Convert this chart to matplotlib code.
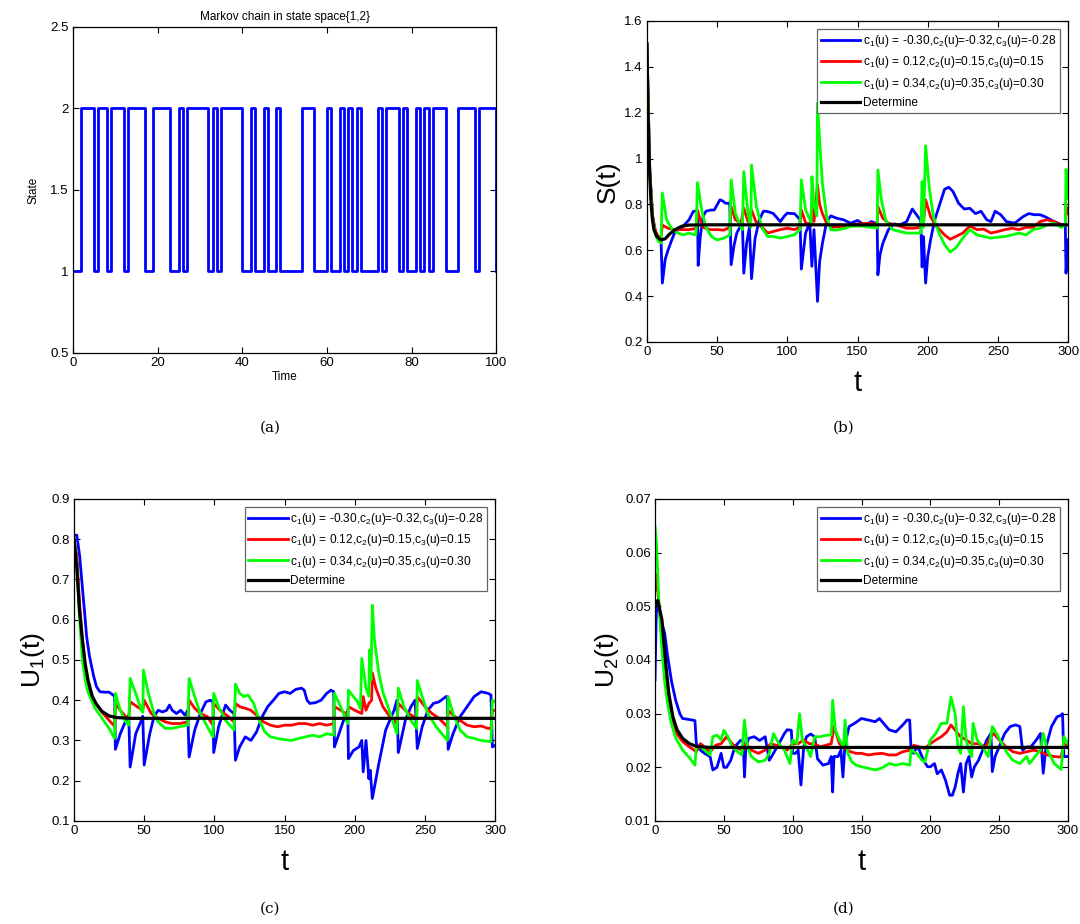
import matplotlib
matplotlib.use("Agg")
import matplotlib.pyplot as plt
from matplotlib.ticker import FuncFormatter

plt.rcParams["font.family"] = ["Liberation Sans", "DejaVu Sans"]
plt.rcParams["mathtext.fontset"] = "custom"
plt.rcParams["mathtext.rm"] = "Liberation Sans"
plt.rcParams["mathtext.it"] = "Liberation Sans"

# --- Panel (a): Markov chain switching times / states ---
switch_t = [0, 2, 5, 6, 8, 9, 12, 13, 17, 19, 23, 25, 26, 27, 32, 33, 34, 35, 40, 42,
            43, 45, 46, 48, 49, 54, 57, 60, 61, 63, 64, 65, 66, 67, 68, 72, 73, 74, 77, 78,
            79, 81, 82, 83, 84, 85, 88, 91, 95, 96, 100]
switch_state = [1, 2, 1, 2, 1, 2, 1, 2, 1, 2, 1, 2, 1, 2, 1, 2, 1, 2, 1, 2,
                1, 2, 1, 2, 1, 2, 1, 2, 1, 2, 1, 2, 1, 2, 1, 2, 1, 2, 1, 2,
                1, 2, 1, 2, 1, 2, 1, 2, 1, 2, 1]

# --- Panel (b): S(t) ---
sb_t = [0, 2, 4, 6, 8, 10, 11, 13, 15, 18, 20, 25, 30, 33, 36, 36.5, 38, 40, 42, 45, 48, 52, 54, 56, 59,
        60, 62, 64, 68, 69, 71, 73, 74.5, 77, 80, 83, 85, 88, 90, 95, 98, 100, 103, 105, 109, 110, 113,
        116, 117.5, 119, 121.5, 123, 125, 128, 131, 135, 140, 145, 150, 155, 160, 164, 164.5, 166, 168,
        172, 176, 180, 185, 189, 192, 195, 196, 197, 198.5, 200, 202, 205, 208, 212, 215, 218, 222, 226,
        230, 234, 238, 242, 245, 248, 252, 256, 262, 268, 272, 276, 280, 284, 290, 296, 298, 298.5, 300]
sb_v = [1.5, 0.95, 0.75, 0.68, 0.655, 0.648, 0.457, 0.56, 0.60, 0.65, 0.68, 0.70, 0.733, 0.769, 0.773,
        0.534, 0.66, 0.747, 0.77, 0.775, 0.776, 0.82, 0.815, 0.805, 0.805, 0.537, 0.62, 0.675, 0.72, 0.50,
        0.63, 0.70, 0.476, 0.65, 0.733, 0.77, 0.77, 0.765, 0.76, 0.725, 0.75, 0.762, 0.76, 0.76, 0.735,
        0.518, 0.675, 0.72, 0.53, 0.69, 0.377, 0.55, 0.63, 0.725, 0.75, 0.74, 0.733, 0.718, 0.73, 0.71,
        0.725, 0.715, 0.493, 0.58, 0.63, 0.69, 0.715, 0.71, 0.725, 0.78, 0.755, 0.73, 0.527, 0.66, 0.457,
        0.57, 0.645, 0.733, 0.79, 0.866, 0.875, 0.856, 0.805, 0.78, 0.783, 0.76, 0.77, 0.733, 0.725, 0.77,
        0.755, 0.725, 0.718, 0.747, 0.76, 0.755, 0.755, 0.745, 0.725, 0.71, 0.712, 0.50, 0.645]

sr_t = [0, 2, 4, 6, 8, 10, 11, 12, 15, 20, 25, 30, 35, 36, 38, 40, 45, 50, 55, 59, 60, 63, 67, 69, 72,
        74.5, 78, 82, 86, 90, 95, 100, 105, 109, 110, 113, 117, 117.5, 119, 121.5, 123, 125, 128, 132,
        140, 150, 160, 164, 164.5, 168, 172, 180, 185, 190, 195, 196, 197, 198.5, 202, 206, 212, 216,
        220, 225, 230, 235, 240, 245, 250, 255, 260, 265, 270, 275, 280, 285, 290, 295, 298, 298.5, 300]
sr_v = [1.5, 0.95, 0.75, 0.685, 0.66, 0.655, 0.71, 0.706, 0.696, 0.69, 0.69, 0.69, 0.695, 0.776, 0.73,
        0.70, 0.69, 0.69, 0.688, 0.70, 0.79, 0.733, 0.718, 0.783, 0.725, 0.776, 0.718, 0.70, 0.675, 0.682,
        0.69, 0.696, 0.69, 0.70, 0.776, 0.72, 0.71, 0.79, 0.725, 0.885, 0.80, 0.76, 0.718, 0.70, 0.705,
        0.715, 0.718, 0.712, 0.79, 0.74, 0.718, 0.706, 0.696, 0.696, 0.70, 0.76, 0.72, 0.82, 0.747, 0.706,
        0.667, 0.648, 0.66, 0.675, 0.706, 0.69, 0.692, 0.675, 0.682, 0.69, 0.696, 0.69, 0.70, 0.70, 0.725,
        0.733, 0.725, 0.71, 0.712, 0.79, 0.76]

sg_t = [0, 2, 4, 6, 8, 10, 11, 14, 18, 22, 26, 30, 34, 35, 36, 39, 42, 46, 50, 55, 59, 60, 63, 67, 68,
        69, 72, 74, 74.5, 78, 82, 86, 90, 95, 100, 105, 109, 110, 113, 117, 117.5, 119, 121, 121.5, 123,
        125, 128, 131, 135, 140, 145, 150, 155, 160, 164, 164.5, 167, 170, 175, 180, 185, 190, 195, 196,
        197, 198.5, 201, 204, 208, 212, 216, 220, 225, 230, 235, 240, 245, 250, 255, 260, 265, 270, 275,
        280, 285, 290, 295, 298, 298.5, 300]
sg_v = [1.5, 0.94, 0.74, 0.67, 0.64, 0.632, 0.85, 0.733, 0.69, 0.675, 0.667, 0.675, 0.667, 0.67, 0.895,
        0.776, 0.70, 0.66, 0.645, 0.653, 0.667, 0.907, 0.76, 0.70, 0.69, 0.943, 0.76, 0.70, 0.972, 0.79,
        0.696, 0.66, 0.66, 0.653, 0.66, 0.667, 0.69, 0.907, 0.776, 0.72, 0.921, 0.80, 0.75, 1.243, 1.08,
        0.892, 0.747, 0.69, 0.688, 0.694, 0.704, 0.706, 0.704, 0.70, 0.697, 0.95, 0.82, 0.733, 0.69, 0.682,
        0.675, 0.675, 0.675, 0.90, 0.70, 1.056, 0.878, 0.747, 0.675, 0.624, 0.592, 0.61, 0.653, 0.69,
        0.667, 0.66, 0.653, 0.657, 0.66, 0.667, 0.675, 0.667, 0.69, 0.696, 0.71, 0.718, 0.70, 0.71, 0.953,
        0.827]

sk_t = [0, 1, 2, 3, 4, 5, 7, 10, 13, 16, 20, 25, 30, 40, 300]
sk_v = [1.5, 1.15, 0.93, 0.80, 0.73, 0.69, 0.66, 0.645, 0.65, 0.67, 0.69, 0.705, 0.71, 0.711, 0.711]

# --- Panel (c): U1(t) ---
ub_t = [0, 2, 4, 6, 8, 9, 11, 12.6, 14, 16, 18.5, 22, 25, 29, 29.5, 33, 37, 39, 40, 44, 48, 49, 50, 54,
        57, 60, 63, 66, 68, 70, 73, 76, 79, 81, 82, 86, 90, 94, 97, 99, 99.5, 103, 106, 108, 111, 114,
        115, 118, 122, 126, 130, 134, 138, 142, 146, 150, 154, 158, 162, 164, 166, 168, 172, 176, 180,
        183, 185, 185.5, 188, 192, 195, 195.5, 199, 203, 205, 206, 208, 210, 211, 212.5, 217, 222, 228,
        230, 231, 236, 240, 243, 244.5, 248, 252, 256, 260, 265, 266, 266.5, 270, 275, 280, 285, 290, 295,
        297, 298, 300]
ub_v = [0.81, 0.81, 0.76, 0.68, 0.60, 0.558, 0.51, 0.483, 0.46, 0.434, 0.421, 0.42, 0.42, 0.41, 0.278,
        0.317, 0.35, 0.363, 0.234, 0.317, 0.35, 0.36, 0.239, 0.317, 0.36, 0.375, 0.371, 0.375, 0.388,
        0.375, 0.367, 0.375, 0.363, 0.375, 0.259, 0.326, 0.367, 0.396, 0.40, 0.396, 0.27, 0.334, 0.367,
        0.388, 0.375, 0.367, 0.251, 0.284, 0.309, 0.30, 0.321, 0.359, 0.384, 0.40, 0.417, 0.421, 0.417,
        0.427, 0.43, 0.425, 0.40, 0.392, 0.394, 0.40, 0.417, 0.425, 0.421, 0.284, 0.309, 0.35, 0.375,
        0.255, 0.275, 0.284, 0.30, 0.222, 0.30, 0.205, 0.226, 0.156, 0.24, 0.326, 0.375, 0.40, 0.27, 0.35,
        0.384, 0.40, 0.28, 0.334, 0.375, 0.392, 0.396, 0.409, 0.409, 0.278, 0.317, 0.359, 0.384, 0.409,
        0.421, 0.417, 0.413, 0.284, 0.288]

ur_t = [0, 2, 4, 6, 8, 10, 12, 15, 20, 25, 29, 29.5, 33, 37, 39, 40, 45, 49, 50, 55, 60, 65, 70, 75, 81,
        82, 86, 90, 95, 99, 99.5, 104, 110, 114, 115, 118, 122, 126, 130, 135, 140, 145, 150, 155, 160,
        165, 170, 175, 180, 185, 185.5, 190, 195, 195.5, 200, 205, 206, 208, 210, 212, 212.5, 215, 220,
        225, 230, 231, 236, 240, 244, 244.5, 250, 255, 260, 266, 266.5, 270, 275, 280, 285, 290, 295, 297,
        298, 300]
ur_v = [0.80, 0.76, 0.64, 0.55, 0.48, 0.44, 0.415, 0.395, 0.37, 0.35, 0.335, 0.392, 0.375, 0.359, 0.355,
        0.396, 0.384, 0.375, 0.40, 0.367, 0.355, 0.346, 0.342, 0.342, 0.346, 0.40, 0.38, 0.367, 0.359,
        0.338, 0.392, 0.375, 0.359, 0.346, 0.392, 0.384, 0.38, 0.375, 0.363, 0.346, 0.338, 0.334, 0.338,
        0.338, 0.342, 0.342, 0.338, 0.342, 0.338, 0.342, 0.384, 0.375, 0.363, 0.384, 0.375, 0.367, 0.409,
        0.375, 0.392, 0.40, 0.468, 0.43, 0.384, 0.359, 0.342, 0.392, 0.375, 0.363, 0.355, 0.409, 0.384,
        0.367, 0.355, 0.334, 0.375, 0.363, 0.35, 0.338, 0.334, 0.336, 0.33, 0.33, 0.375, 0.375]

ug_t = [0, 2, 4, 6, 8, 10, 15, 20, 25, 29, 29.5, 33, 37, 39, 40, 44, 48, 49, 49.5, 53, 57, 60, 65, 70,
        75, 81, 82, 86, 90, 95, 99, 99.5, 103, 108, 114, 115, 118, 121, 124, 128, 132, 136, 140, 145, 150,
        155, 160, 165, 170, 175, 180, 185, 185.5, 190, 195, 195.5, 199, 202, 204, 205, 208, 210, 210.5,
        211.5, 212.5, 214, 217, 220, 225, 230, 231, 235, 240, 244, 244.5, 248, 252, 258, 266, 266.5, 270,
        275, 280, 285, 290, 297, 298, 300]
ug_v = [0.80, 0.74, 0.60, 0.50, 0.45, 0.42, 0.38, 0.355, 0.33, 0.305, 0.417, 0.375, 0.346, 0.338, 0.454,
        0.417, 0.375, 0.37, 0.475, 0.417, 0.367, 0.346, 0.33, 0.33, 0.334, 0.338, 0.454, 0.409, 0.367,
        0.334, 0.309, 0.417, 0.384, 0.35, 0.326, 0.44, 0.417, 0.409, 0.413, 0.392, 0.35, 0.321, 0.309,
        0.305, 0.302, 0.30, 0.305, 0.309, 0.313, 0.309, 0.317, 0.313, 0.417, 0.384, 0.342, 0.425, 0.409,
        0.396, 0.38, 0.504, 0.43, 0.41, 0.525, 0.45, 0.636, 0.55, 0.47, 0.42, 0.37, 0.317, 0.43, 0.384,
        0.35, 0.33, 0.449, 0.409, 0.367, 0.334, 0.30, 0.409, 0.367, 0.326, 0.309, 0.305, 0.30, 0.297,
        0.40, 0.396]

uk_t = [0, 2, 4, 6, 8, 10, 13, 16, 20, 25, 30, 40, 300]
uk_v = [0.80, 0.73, 0.62, 0.55, 0.49, 0.45, 0.41, 0.39, 0.372, 0.361, 0.357, 0.355, 0.355]

# --- Panel (d): U2(t) ---
vb_t = [0, 1, 3, 5, 7, 9, 12, 15, 18, 20, 25, 29, 30, 33, 36, 40, 42, 45, 48, 50, 52, 55, 58, 62, 64,
        65, 66, 68, 72, 76, 80, 83, 86, 90, 94, 96, 99, 100, 102, 104, 106, 108, 110, 113, 116, 118, 122,
        126, 128, 129, 130, 133, 135, 136.5, 138, 141, 145, 150, 155, 160, 163, 167, 170, 175, 180, 183,
        185, 186, 188, 190, 192, 195, 198, 200, 203, 205, 208, 211, 214, 216, 218, 220, 222, 224, 226,
        228, 230, 232, 235, 238, 241, 244, 245, 247, 250, 254, 258, 262, 265, 267, 270, 273, 277, 280,
        282, 284, 288, 292, 295, 296, 297, 300]
vb_v = [0.0363, 0.050, 0.049, 0.0468, 0.045, 0.041, 0.036, 0.0325, 0.030, 0.0291, 0.0289, 0.0287,
        0.0244, 0.0232, 0.0226, 0.022, 0.0195, 0.020, 0.0226, 0.020, 0.020, 0.0213, 0.0238, 0.025, 0.025,
        0.0182, 0.0238, 0.0254, 0.0257, 0.025, 0.0257, 0.0213, 0.0226, 0.0244, 0.0263, 0.027, 0.0269,
        0.0226, 0.0226, 0.0232, 0.0167, 0.0238, 0.0257, 0.0262, 0.0257, 0.0216, 0.0204, 0.0207, 0.022,
        0.0154, 0.022, 0.022, 0.0232, 0.0182, 0.0244, 0.0276, 0.0282, 0.0291, 0.0288, 0.0285, 0.0291,
        0.0279, 0.027, 0.0266, 0.0279, 0.0288, 0.0288, 0.0232, 0.0226, 0.0238, 0.0232, 0.0213, 0.0201,
        0.0201, 0.0207, 0.0188, 0.0195, 0.0176, 0.0148, 0.0148, 0.0163, 0.0188, 0.0207, 0.0154, 0.0207,
        0.022, 0.0182, 0.0201, 0.0213, 0.0232, 0.0251, 0.0263, 0.0192, 0.022, 0.0238, 0.0263, 0.0276,
        0.0279, 0.0276, 0.0232, 0.0238, 0.0238, 0.0251, 0.0263, 0.0189, 0.0238, 0.0276, 0.0294, 0.0297,
        0.030, 0.022, 0.022]

vr_t = [0, 1, 3, 5, 7, 10, 13, 16, 20, 25, 30, 33, 36, 40, 44, 48, 52, 56, 60, 64, 66, 70, 75, 80, 84,
        88, 92, 96, 100, 104, 108, 112, 116, 120, 124, 128, 130, 134, 138, 142, 146, 150, 155, 160, 165,
        170, 175, 180, 185, 188, 192, 196, 200, 204, 208, 212, 215, 218, 222, 226, 230, 235, 240, 244,
        246, 250, 255, 260, 265, 270, 275, 280, 285, 290, 295, 297, 300]
vr_v = [0.053, 0.056, 0.050, 0.044, 0.038, 0.032, 0.0285, 0.0262, 0.0248, 0.0238, 0.0229, 0.0244,
        0.0238, 0.0229, 0.0241, 0.0244, 0.0257, 0.0244, 0.0235, 0.0232, 0.0244, 0.0232, 0.0226, 0.0232,
        0.0244, 0.0241, 0.0238, 0.0232, 0.0244, 0.0244, 0.0251, 0.0244, 0.0244, 0.0238, 0.0241, 0.0244,
        0.0276, 0.0244, 0.0235, 0.0229, 0.0226, 0.0226, 0.0223, 0.0225, 0.0226, 0.0223, 0.0223, 0.0229,
        0.0232, 0.0241, 0.0238, 0.0235, 0.0244, 0.0251, 0.0257, 0.0266, 0.0279, 0.0269, 0.0257, 0.0251,
        0.0244, 0.0244, 0.0238, 0.0257, 0.0263, 0.0251, 0.0238, 0.0229, 0.0226, 0.0229, 0.0232, 0.0229,
        0.0223, 0.022, 0.0219, 0.0244, 0.0238]

vg_t = [0, 1, 3, 5, 7, 9, 12, 15, 20, 25, 29, 30, 33, 36, 40, 42, 45, 48, 50, 53, 56, 60, 63, 65, 67,
        70, 75, 80, 83, 86, 90, 94, 98, 100, 103, 105, 107, 110, 113, 116, 120, 125, 128, 129, 131, 134,
        137, 138, 140, 143, 146, 150, 155, 160, 165, 170, 175, 180, 185, 186, 190, 194, 196, 200, 204,
        208, 212, 215, 218, 220, 222, 224, 226, 228, 230, 231, 234, 238, 242, 245, 248, 252, 256, 260,
        265, 270, 272, 276, 280, 282, 285, 290, 295, 297, 300]
vg_v = [0.0649, 0.062, 0.050, 0.042, 0.036, 0.032, 0.028, 0.0255, 0.0232, 0.0218, 0.0204, 0.0238,
        0.0238, 0.0232, 0.0223, 0.0257, 0.026, 0.0251, 0.0269, 0.0257, 0.0238, 0.0229, 0.0223, 0.0288,
        0.0238, 0.022, 0.021, 0.0213, 0.0226, 0.0263, 0.0244, 0.0232, 0.0207, 0.0251, 0.0244, 0.030,
        0.0251, 0.0238, 0.022, 0.0257, 0.0257, 0.026, 0.026, 0.0325, 0.0269, 0.0251, 0.0238, 0.0288,
        0.0226, 0.021, 0.0204, 0.0201, 0.0198, 0.0195, 0.0199, 0.0207, 0.0204, 0.0207, 0.0204, 0.0232,
        0.0226, 0.0213, 0.021, 0.0251, 0.0263, 0.0282, 0.0282, 0.0331, 0.030, 0.0238, 0.0226, 0.0313,
        0.0251, 0.0232, 0.022, 0.0282, 0.0251, 0.0238, 0.022, 0.0276, 0.0263, 0.0244, 0.0226, 0.0213,
        0.0207, 0.022, 0.0207, 0.022, 0.0232, 0.0263, 0.0232, 0.0207, 0.0196, 0.0257, 0.0244]

vk_t = [0, 2, 5, 8, 10, 13, 16, 20, 25, 30, 40, 300]
vk_v = [0.050, 0.0511, 0.0475, 0.0388, 0.0338, 0.0294, 0.027, 0.0254, 0.0244, 0.0239, 0.0237, 0.0237]

labels = [
    r"c$_1$(u) = -0.30,c$_2$(u)=-0.32,c$_3$(u)=-0.28",
    r"c$_1$(u) = 0.12,c$_2$(u)=0.15,c$_3$(u)=0.15",
    r"c$_1$(u) = 0.34,c$_2$(u)=0.35,c$_3$(u)=0.30",
    "Determine",
]

fmt = FuncFormatter(lambda v, p: "%g" % round(v, 6))


def style_axes(ax, tick_size=9.5):
    ax.tick_params(direction="in", top=True, right=True, length=4, width=0.8,
                   labelsize=tick_size, pad=3)
    ax.yaxis.set_major_formatter(fmt)
    ax.xaxis.set_major_formatter(fmt)
    for s in ax.spines.values():
        s.set_linewidth(0.9)


def sim_panel(ax, blue, red, green, black, ylim, yticks, ylabel):
    ax.plot(blue[0], blue[1], color=(0, 0, 1), lw=2.0, label=labels[0])
    ax.plot(red[0], red[1], color=(1, 0, 0), lw=2.0, label=labels[1])
    ax.plot(green[0], green[1], color=(0, 1, 0), lw=2.0, label=labels[2])
    ax.plot(black[0], black[1], color="k", lw=2.3, label=labels[3])
    ax.set_xlim(0, 300)
    ax.set_ylim(*ylim)
    ax.set_xticks(range(0, 301, 50))
    ax.set_yticks(yticks)
    style_axes(ax)
    ax.set_xlabel("t", fontsize=21, labelpad=8)
    ax.set_ylabel(ylabel, fontsize=19, labelpad=3)
    leg = ax.legend(loc="upper right", fontsize=8.6, handlelength=3.3, handletextpad=0.2,
                    labelspacing=0.45, borderaxespad=0.7, borderpad=0.3, fancybox=False,
                    framealpha=1)
    leg.get_frame().set_edgecolor("0.4")
    leg.get_frame().set_linewidth(0.9)


fig = plt.figure(figsize=(10.8, 9.24), dpi=100)

# --- (a) ---
ax_a = fig.add_axes([0.0676, 0.618, 0.392, 0.3528])
ax_a.step(switch_t, switch_state, where="post", color=(0, 0, 1), lw=2.0)
ax_a.set_xlim(0, 100)
ax_a.set_ylim(0.5, 2.5)
ax_a.set_xticks(range(0, 101, 20))
ax_a.set_yticks([0.5, 1, 1.5, 2, 2.5])
style_axes(ax_a)
ax_a.set_title("Markov chain in state space{1,2}", fontsize=8.5, pad=5)
ax_a.set_xlabel("Time", fontsize=8.5, labelpad=1)
ax_a.set_ylabel("State", fontsize=8.5, labelpad=8)

# --- (b) ---
ax_b = fig.add_axes([0.599, 0.6299, 0.390, 0.3474])
sim_panel(ax_b, (sb_t, sb_v), (sr_t, sr_v), (sg_t, sg_v), (sk_t, sk_v),
          (0.2, 1.6), [0.2, 0.4, 0.6, 0.8, 1.0, 1.2, 1.4, 1.6], "S(t)")

# --- (c) ---
ax_c = fig.add_axes([0.0685, 0.1115, 0.390, 0.3485])
sim_panel(ax_c, (ub_t, ub_v), (ur_t, ur_v), (ug_t, ug_v), (uk_t, uk_v),
          (0.1, 0.9), [0.1, 0.2, 0.3, 0.4, 0.5, 0.6, 0.7, 0.8, 0.9], r"U$_1$(t)")

# --- (d) ---
ax_d = fig.add_axes([0.6065, 0.1115, 0.3824, 0.3485])
sim_panel(ax_d, (vb_t, vb_v), (vr_t, vr_v), (vg_t, vg_v), (vk_t, vk_v),
          (0.01, 0.07), [0.01, 0.02, 0.03, 0.04, 0.05, 0.06, 0.07], r"U$_2$(t)")

# --- captions ---
for x, y, s in [(0.25, 0.537, "(a)"), (0.781, 0.537, "(b)"),
                (0.25, 0.017, "(c)"), (0.781, 0.017, "(d)")]:
    fig.text(x, y, s, ha="center", va="center", fontsize=11, family="DejaVu Serif")

fig.savefig("out.png", dpi=100)
